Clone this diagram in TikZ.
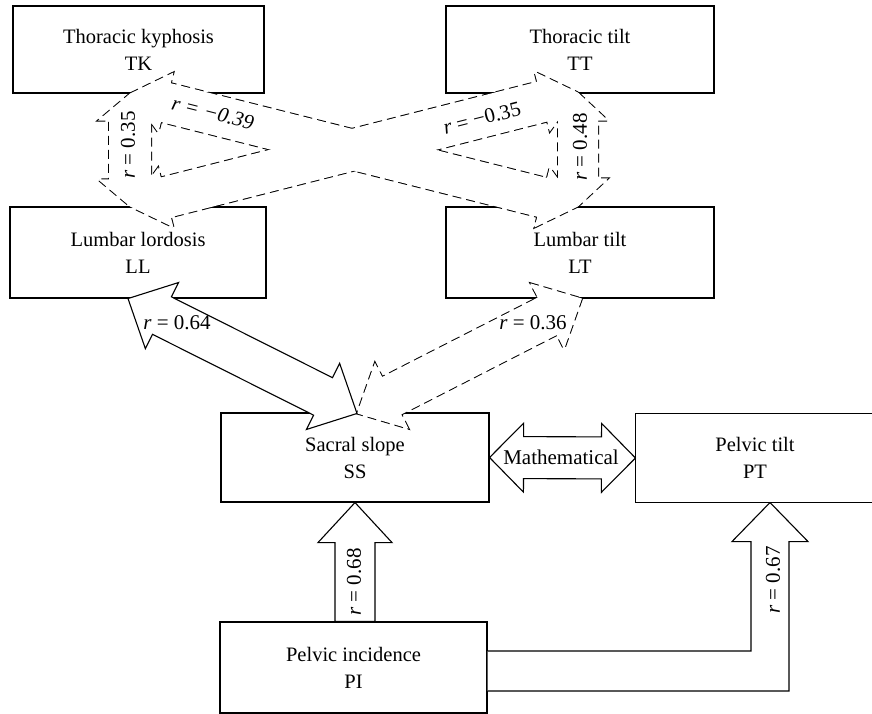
\documentclass[tikz,border=0pt]{standalone}
\usepackage{fontspec}
\setmainfont{Liberation Serif}
\usepackage{tikz}
\usetikzlibrary{calc}
\usetikzlibrary{positioning}

% block arrow with two heads: #1 style, #2 from, #3 to,
% #4 half shaft, #5 half head, #6 head length
\newcommand{\blockarrow}[6]{%
  \coordinate (ba-a) at (#2);
  \coordinate (ba-b) at (#3);
  \coordinate (ba-ha) at ($(ba-a)!#6!(ba-b)$);
  \coordinate (ba-hb) at ($(ba-b)!#6!(ba-a)$);
  \path[#1] (ba-a) -- ($(ba-ha)!#5!90:(ba-b)$) -- ($(ba-ha)!#4!90:(ba-b)$)
    -- ($(ba-hb)!#4!-90:(ba-a)$) -- ($(ba-hb)!#5!-90:(ba-a)$) -- (ba-b)
    -- ($(ba-hb)!#5!90:(ba-a)$) -- ($(ba-hb)!#4!90:(ba-a)$)
    -- ($(ba-ha)!#4!-90:(ba-b)$) -- ($(ba-ha)!#5!-90:(ba-b)$) -- cycle;
}

\begin{document}
\begin{tikzpicture}[x=1pt, y=-1pt,
    box/.style={draw, line width=1.1pt, align=center, inner sep=0pt,
                font=\fontsize{20.5}{27}\selectfont},
    solidarrow/.style={draw, fill=white, line width=1.1pt},
    dashedge/.style={draw, line width=2pt, dash pattern=on 9pt off 5pt},
    dashfill/.style={fill=white},
    rlabel/.style={font=\fontsize{21}{25}\selectfont, inner sep=0pt}]
  \useasboundingbox (0,0) rectangle (872,714);
  \clip (0,0) rectangle (872,714);
  % Spine boxes
  \node[box, minimum width=251pt, minimum height=87pt] (tk) at (138.5,49.5) {Thoracic kyphosis\\TK};
  \node[box, minimum width=268pt, minimum height=87pt] (tt) at (580,49.5)   {Thoracic tilt\\TT};
  \node[box, minimum width=256pt, minimum height=91pt] (ll) at (138,252.5)  {Lumbar lordosis\\LL};
  \node[box, minimum width=268pt, minimum height=91pt] (lt) at (580,252.5)  {Lumbar tilt\\LT};
  % Pelvis boxes (PT runs off the right edge)
  \node[box, minimum width=268pt, minimum height=89pt] (ss) at (355,457.5)  {Sacral slope\\SS};
  \node[box, draw=none, minimum width=238pt, minimum height=88pt] (pt) at (755,458) {Pelvic tilt\\PT};
  \draw[line width=1.1pt] ($(pt.north east)+(30,0)$) -- (pt.north west) -- (pt.south west) -- ($(pt.south east)+(30,0)$);
  \node[box, minimum width=267pt, minimum height=91pt] (pi) at (353.5,667.5) {Pelvic incidence\\PI};

  % Tips
  \coordinate (tk-tip) at ($(tk.south)+(-8.5,0)$);
  \coordinate (tt-tip) at ($(tt.south)+(-2,-1)$);
  \coordinate (ll-top) at ($(ll.north)+(-8,0)$);
  \coordinate (lt-top) at ($(lt.north)+(-2,0)$);
  \coordinate (ll-bot) at ($(ll.south)+(-10,0)$);
  \coordinate (lt-bot) at ($(lt.south)+(2,0)$);
  \coordinate (ss-top) at ($(ss.north)+(2,1)$);
  \coordinate (pt-tip) at ($(pt.south)+(15,0)$);

  % Weak correlations (dashed, outlines merged)
  \blockarrow{dashedge}{tk-tip}{ll-top}{21pt}{32pt}{27pt}
  \blockarrow{dashedge}{tt-tip}{lt-top}{20pt}{30pt}{28pt}
  \blockarrow{dashedge}{tk-tip}{lt-top}{20pt}{31pt}{37pt}
  \blockarrow{dashedge}{tt-tip}{ll-top}{20.5pt}{31pt}{37pt}
  \blockarrow{dashedge}{lt-bot}{ss-top}{21pt}{37pt}{39pt}
  \blockarrow{dashfill}{tk-tip}{ll-top}{21pt}{32pt}{27pt}
  \blockarrow{dashfill}{tt-tip}{lt-top}{20pt}{30pt}{28pt}
  \blockarrow{dashfill}{tk-tip}{lt-top}{20pt}{31pt}{37pt}
  \blockarrow{dashfill}{tt-tip}{ll-top}{20.5pt}{31pt}{37pt}
  \blockarrow{dashfill}{lt-bot}{ss-top}{21pt}{37pt}{39pt}

  % Strong correlations (solid)
  \blockarrow{solidarrow}{ll-bot}{ss-top}{21pt}{37pt}{38pt}
  \blockarrow{solidarrow}{ss.east}{pt.west}{21pt}{34.5pt}{34pt}
  \draw[solidarrow] (ss.south) -- ++(37,40) -- ++(-17,0) -- ($(ss.south |- pi.north)+(20,0)$)
       -- ($(ss.south |- pi.north)+(-20,0)$) -- ($(ss.south)+(-20,40)$) -- ++(-17,0) -- cycle;
  \draw[solidarrow] ($(pi.east)+(0,-16.5)$) -| ($(pt-tip)+(-19,39)$) -- ++(-19,0) -- (pt-tip)
       -- ++(38,39) -- ++(-19,0) |- ($(pi.east)+(0,23.5)$);

  % Labels
  \node[rlabel, rotate=90]    (r-tkll) at (128,145) {\textit{r} = 0.35};
  \node[rlabel, rotate=-14.3] (r-tklt) at (213,113) {\textit{r = −0.39}};
  \node[rlabel, rotate=14.3]  (r-ttll) at (482,118) {\textit{r} = −0.35};
  \node[rlabel, rotate=90]    (r-ttlt) at (580,147) {\textit{r} = 0.48};
  \node[rlabel]               (r-llss) at (177,323) {\textit{r} = 0.64};
  \node[rlabel]               (r-ltss) at (533,323) {\textit{r} = 0.36};
  \node[rlabel]               (r-sspt) at (561,457) {Mathematical};
  \node[rlabel, rotate=90]    (r-piss) at (354,582) {\textit{r} = 0.68};
  \node[rlabel, rotate=90]    (r-pipt) at (773,580) {\textit{r} = 0.67};
\end{tikzpicture}
\end{document}
